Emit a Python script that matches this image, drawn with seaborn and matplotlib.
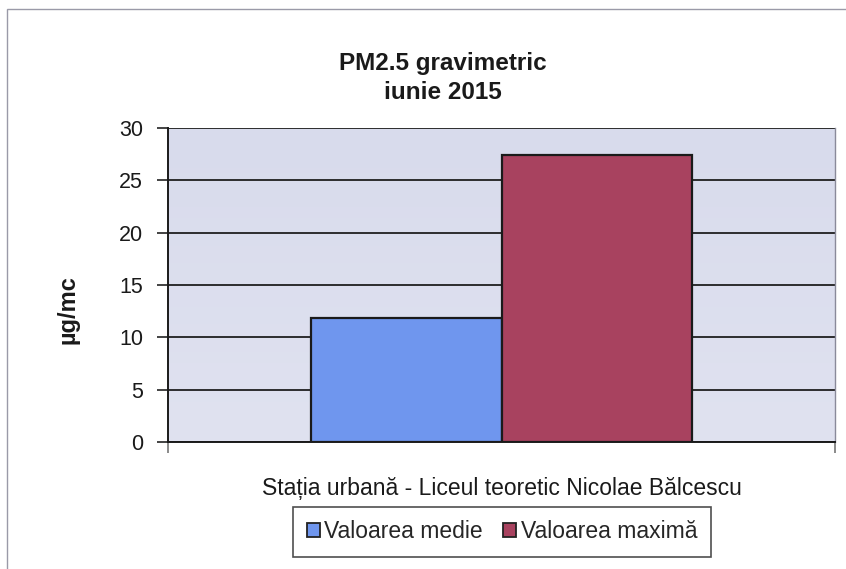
import numpy as np
import pandas as pd
import matplotlib
matplotlib.use("Agg")
import matplotlib.pyplot as plt
import seaborn as sns
from matplotlib.patches import Patch, Rectangle
from matplotlib.colors import LinearSegmentedColormap

station = ["Stația urbană - Liceul teoretic Nicolae Bălcescu"]
series = ["Valoarea medie", "Valoarea maximă"]
values = [11.8, 27.4]
yticks = [0, 5, 10, 15, 20, 25, 30]
colors = ["#6f96ee", "#a8425f"]

df = pd.DataFrame({"statie": station * len(series), "serie": series, "valoare": values})

sns.set_theme(style="white")
plt.rcParams['font.family'] = ['Liberation Sans', 'DejaVu Sans']

fig = plt.figure(figsize=(8.46, 5.69), dpi=100)
ax = fig.add_axes([168/846, 1-442/569, (835-168)/846, (442-128)/569])

# gradient background
grad = np.linspace(0, 1, 256).reshape(-1, 1)
cmap = LinearSegmentedColormap.from_list("bg", ["#e0e2f0", "#d8dbec"])
ax.imshow(grad, extent=[0, 1, 0, 1], transform=ax.transAxes, cmap=cmap,
          aspect="auto", zorder=0, origin="lower")

sns.barplot(data=df, x="statie", y="valoare", hue="serie", palette=colors,
            width=0.57, edgecolor="#1a1a1a", linewidth=1.6, saturation=1,
            legend=False, ax=ax, zorder=3)

ax.set_xlim(-0.5, 0.5)
ax.set_ylim(0, 30)
ax.set_yticks(yticks)
ax.set_yticklabels([str(v) for v in yticks], fontsize=15.5, color="#1a1a1a")
ax.yaxis.grid(True, color="#1f1f1f", linewidth=1.3)
for l in ax.get_ygridlines():
    l.set_zorder(1)
ax.tick_params(axis="y", direction="out", length=8, width=1.2, color="#222", pad=10, left=True)

ax.set_xticks([0])
ax.set_xticklabels(station, fontsize=16.5, color="#1a1a1a")
ax.tick_params(axis="x", length=0, pad=25)
ax.set_xticks([-0.5, 0.5], minor=True)
ax.tick_params(axis="x", which="minor", direction="out", length=8, width=1.2, color="#777", bottom=True)
ax.set_xlabel("")
ax.set_ylabel("")

fig.text(68/846, 1-310/569, "µg/mc", rotation=90, ha="center", va="center",
         fontsize=17, fontweight="bold", color="#1a1a1a")

for s in ["left", "bottom"]:
    ax.spines[s].set_color("#1a1a1a")
    ax.spines[s].set_linewidth(1.4)
ax.spines["right"].set_color("#8a8a9a")
ax.spines["right"].set_linewidth(1.0)
ax.spines["top"].set_visible(False)

fig.text(443/846, 1-78/569, "PM2.5 gravimetric\niunie 2015", ha="center", va="center",
         fontsize=17.5, fontweight="bold", color="#1a1a1a", linespacing=1.35)

handles = [Patch(facecolor=c, edgecolor="#222", linewidth=1.3) for c in colors]
leg = fig.legend(handles, series, loc="center", bbox_to_anchor=(502/846, 1-532/569),
                 ncol=2, fontsize=16.5, frameon=True, fancybox=False, handlelength=0.55,
                 handleheight=0.55, handletextpad=0.2, columnspacing=0.9,
                 borderpad=0.6, edgecolor="#222")
leg.get_frame().set_linewidth(1.2)

fig.patches.append(Rectangle((7/846, -0.1), 1.2, 1 - 9/569 + 0.1, transform=fig.transFigure,
                             fill=False, edgecolor="#9a9aa8", linewidth=1.0))

fig.savefig("out.png", dpi=100)
